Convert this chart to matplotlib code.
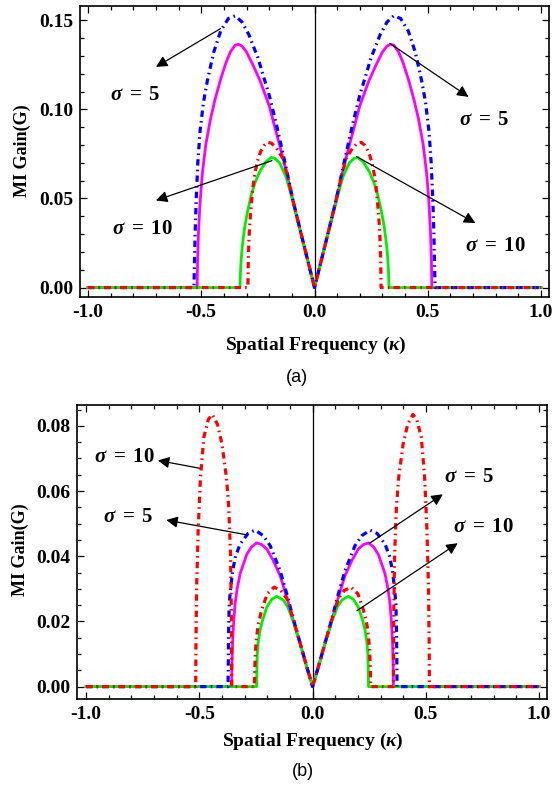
import numpy as np
import matplotlib
matplotlib.use("Agg")
import matplotlib.pyplot as plt
from matplotlib.ticker import MultipleLocator, FormatStrFormatter

# values, right half only (kappa >= 0); curves are symmetric
# panel (a)
ka_magenta = [0.0, 0.0367, 0.066, 0.095, 0.125, 0.154, 0.169, 0.20, 0.24, 0.272, 0.30, 0.32, 0.335,
              0.35, 0.37, 0.39, 0.414, 0.44, 0.46, 0.48, 0.495, 0.505, 0.512, 0.516, 0.518, 1.0]
ga_magenta = [0.0, 0.0187, 0.0336, 0.0485, 0.0653, 0.080, 0.087, 0.102, 0.116, 0.125, 0.1322, 0.1355,
              0.1365, 0.136, 0.1325, 0.1265, 0.117, 0.105, 0.094, 0.080, 0.064, 0.048, 0.031, 0.015,
              0.0, 0.0]
ka_blue = [0.0, 0.0367, 0.066, 0.095, 0.125, 0.169, 0.20, 0.25, 0.29, 0.32, 0.35, 0.38, 0.414,
           0.445, 0.473, 0.49, 0.505, 0.515, 0.522, 0.527, 0.530, 0.532, 1.0]
ga_blue = [0.0, 0.0187, 0.0338, 0.049, 0.067, 0.092, 0.108, 0.129, 0.142, 0.149, 0.1525, 0.151, 0.144,
           0.132, 0.116, 0.104, 0.088, 0.070, 0.050, 0.030, 0.012, 0.0, 0.0]
ka_green = [0.0, 0.0367, 0.066, 0.095, 0.125, 0.154, 0.175, 0.191, 0.215, 0.242, 0.262, 0.279,
            0.295, 0.308, 0.318, 0.323, 0.327, 0.329, 1.0]
ga_green = [0.0, 0.0187, 0.0336, 0.048, 0.062, 0.070, 0.0725, 0.073, 0.0705, 0.065, 0.059, 0.052,
            0.043, 0.034, 0.024, 0.017, 0.008, 0.0, 0.0]
ka_red = [0.0, 0.0367, 0.066, 0.095, 0.12, 0.14, 0.169, 0.19, 0.206, 0.222, 0.238, 0.252, 0.264,
          0.272, 0.279, 0.285, 0.289, 0.292, 0.294, 1.0]
ga_red = [0.0, 0.0187, 0.0336, 0.049, 0.063, 0.0725, 0.0785, 0.081, 0.0815, 0.0798, 0.0762, 0.071,
          0.0634, 0.056, 0.0467, 0.037, 0.028, 0.016, 0.0, 0.0]

# panel (b)
kb_magenta = [0.0, 0.026, 0.055, 0.085, 0.114, 0.143, 0.173, 0.202, 0.225, 0.247, 0.27, 0.291,
              0.32, 0.333, 0.342, 0.349, 0.353, 0.356, 0.357, 1.0]
gb_magenta = [0.0, 0.0061, 0.0132, 0.0203, 0.0274, 0.034, 0.0386, 0.0422, 0.0436, 0.0441, 0.0428,
              0.0405, 0.0346, 0.030, 0.0254, 0.019, 0.0135, 0.006, 0.0, 0.0]
kb_blue = [0.0, 0.026, 0.055, 0.085, 0.114, 0.143, 0.187, 0.217, 0.254, 0.285, 0.32, 0.34, 0.353,
           0.362, 0.368, 0.371, 0.373, 1.0]
gb_blue = [0.0, 0.0062, 0.0134, 0.0208, 0.0285, 0.0355, 0.0432, 0.0463, 0.048, 0.047, 0.0437, 0.040,
           0.0355, 0.030, 0.0254, 0.015, 0.0, 0.0]
kb_green = [0.0, 0.026, 0.055, 0.085, 0.11, 0.13, 0.158, 0.18, 0.202, 0.22, 0.232, 0.24, 0.244,
            0.246, 0.247, 1.0]
gb_green = [0.0, 0.0061, 0.0132, 0.0200, 0.0245, 0.0266, 0.0277, 0.0268, 0.0244, 0.0205, 0.0173,
            0.0135, 0.0102, 0.005, 0.0, 0.0]
kb_red = [0.0, 0.026, 0.055, 0.085, 0.114, 0.14, 0.17, 0.2, 0.225, 0.24, 0.247, 0.252, 0.255, 0.257,
          0.357, 0.358, 0.362, 0.37, 0.38, 0.40, 0.42, 0.443, 0.46, 0.48, 0.495, 0.505, 0.512,
          0.515, 0.516, 1.0]
gb_red = [0.0, 0.0062, 0.0134, 0.0206, 0.027, 0.0295, 0.0305, 0.0285, 0.0234, 0.019, 0.0152, 0.011,
          0.006, 0.0, 0.0, 0.020, 0.040, 0.055, 0.064, 0.0745, 0.0805, 0.0835, 0.082, 0.0765, 0.064,
          0.048, 0.030, 0.012, 0.0, 0.0]

xticks = [-1.0, -0.5, 0.0, 0.5, 1.0]
yticks_a = [0.00, 0.05, 0.10, 0.15]
yticks_b = [0.00, 0.02, 0.04, 0.06, 0.08]


def mirror(k, g):
    k = np.asarray(k)
    g = np.asarray(g)
    return np.concatenate([-k[::-1], k[1:]]), np.concatenate([g[::-1], g[1:]])


plt.rcParams['font.family'] = ['Liberation Serif', 'DejaVu Serif']
plt.rcParams['mathtext.fontset'] = 'custom'
plt.rcParams['mathtext.rm'] = 'Liberation Serif:bold'
plt.rcParams['mathtext.bf'] = 'Liberation Serif:bold'
plt.rcParams['mathtext.it'] = 'Liberation Serif:italic:bold'

W, H = 552, 787
fig = plt.figure(figsize=(W / 100, H / 100), dpi=100)
ax1 = fig.add_axes([80 / W, 1 - 297 / H, 469 / W, 291 / H])
ax2 = fig.add_axes([77 / W, 1 - 699 / H, 470 / W, 294 / H])

dash = (0, (2.0, 1.3, 0.5, 1.3))


def draw(ax, k_m, g_m, k_g, g_g, k_b, g_b, k_r, g_r):
    ax.axvline(0, color='k', lw=0.9, zorder=1)
    ax.plot(*mirror(k_m, g_m), color='#ff00ff', lw=2.0, zorder=2)
    ax.plot(*mirror(k_g, g_g), color='#00ee00', lw=2.0, zorder=2)
    ax.plot(*mirror(k_b, g_b), color='#0000ff', lw=2.3, ls=dash, zorder=3)
    ax.plot(*mirror(k_r, g_r), color='#ff0000', lw=2.3, ls=dash, zorder=3)


draw(ax1, ka_magenta, ga_magenta, ka_green, ga_green, ka_blue, ga_blue, ka_red, ga_red)
draw(ax2, kb_magenta, gb_magenta, kb_green, gb_green, kb_blue, gb_blue, kb_red, gb_red)

ax1.set_xlim(-1.035, 1.035)
ax1.set_ylim(-0.0053, 0.158)
ax1.yaxis.set_minor_locator(MultipleLocator(0.01))
ax1.set_yticks(yticks_a)
ax2.set_xlim(-1.04, 1.035)
ax2.set_ylim(-0.0038, 0.0864)
ax2.yaxis.set_minor_locator(MultipleLocator(0.005))
ax2.set_yticks(yticks_b)

for ax in (ax1, ax2):
    ax.set_xticks(xticks)
    ax.xaxis.set_minor_locator(MultipleLocator(0.1))
    ax.xaxis.set_major_formatter(FormatStrFormatter('%.1f'))
    ax.yaxis.set_major_formatter(FormatStrFormatter('%.2f'))
    ax.tick_params(which='both', direction='in', top=True, right=True, width=0.9)
    ax.tick_params(which='major', length=5, labelsize=14, pad=5)
    ax.tick_params(which='minor', length=3)
    for lab in ax.get_xticklabels() + ax.get_yticklabels():
        lab.set_fontweight('bold')
    for sp in ax.spines.values():
        sp.set_linewidth(1.2)

arrow = dict(arrowstyle='-|>', color='k', lw=0.9, mutation_scale=17, shrinkA=0, shrinkB=0)
lab = dict(fontsize=15, fontweight='bold', ha='center', va='center')
s5 = r'$\sigma\;=\;5$'
s10 = r'$\sigma\;=\;10$'

# panel (a) annotations
ax1.annotate('', xy=(-0.70, 0.1238), xytext=(-0.415, 0.1453), arrowprops=arrow)
ax1.text(-0.79, 0.108, s5, **lab)
ax1.annotate('', xy=(-0.70, 0.0489), xytext=(-0.188, 0.0712), arrowprops=arrow)
ax1.text(-0.76, 0.0328, s10, **lab)
ax1.annotate('', xy=(0.68, 0.107), xytext=(0.333, 0.137), arrowprops=arrow)
ax1.text(0.75, 0.094, s5, **lab)
ax1.annotate('', xy=(0.71, 0.0362), xytext=(0.186, 0.0735), arrowprops=arrow)
ax1.text(0.80, 0.0231, s10, **lab)

# panel (b) annotations
ax2.annotate('', xy=(-0.683, 0.0694), xytext=(-0.499, 0.067), arrowprops=arrow)
ax2.text(-0.83, 0.0704, s10, **lab)
ax2.annotate('', xy=(-0.646, 0.0511), xytext=(-0.293, 0.0466), arrowprops=arrow)
ax2.text(-0.815, 0.0519, s5, **lab)
ax2.annotate('', xy=(0.575, 0.059), xytext=(0.252, 0.044), arrowprops=arrow)
ax2.text(0.69, 0.0643, s5, **lab)
ax2.annotate('', xy=(0.641, 0.044), xytext=(0.196, 0.0233), arrowprops=arrow)
ax2.text(0.752, 0.049, s10, **lab)

# axis titles and panel tags
for yc, xc in ((151, 22), (550, 20)):
    fig.text(xc / W, 1 - yc / H, 'MI Gain(G)', rotation=90, fontsize=13, fontweight='bold',
             ha='center', va='center')
fig.text(316 / W, 1 - 345 / H, r'Spatial Frequency ($\kappa$)', fontsize=14, fontweight='bold',
         ha='center', va='center')
fig.text(313 / W, 1 - 741 / H, r'Spatial Frequency ($\kappa$)', fontsize=14, fontweight='bold',
         ha='center', va='center')
fig.text(297 / W, 1 - 378 / H, '(a)', family='Liberation Sans', fontsize=13, ha='center', va='center')
fig.text(303 / W, 1 - 771 / H, '(b)', family='Liberation Sans', fontsize=13, ha='center', va='center')

fig.savefig('out.png', dpi=100)
